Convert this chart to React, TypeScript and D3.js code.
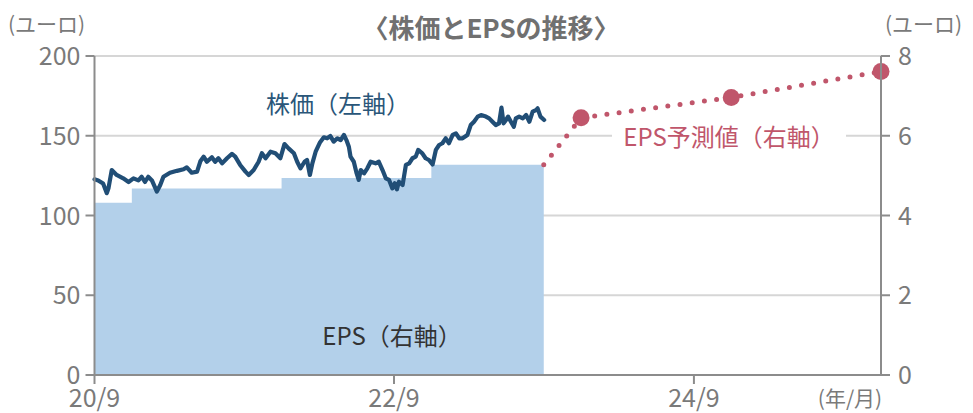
import React from 'react';
import * as d3 from 'd3';

// 株価 (ユーロ) — 読み取り値
const stockPrice: [string, number][] = [
  ['2020-09-01', 122.7], ['2020-09-10', 122], ['2020-09-22', 120], ['2020-10-01', 114],
  ['2020-10-05', 117], ['2020-10-13', 128.5], ['2020-10-25', 125.4], ['2020-11-10', 123.3],
  ['2020-11-23', 121], ['2020-12-05', 123.3], ['2020-12-17', 122], ['2020-12-25', 124.3],
  ['2021-01-02', 121], ['2021-01-10', 124.3], ['2021-01-19', 122], ['2021-01-31', 115],
  ['2021-02-08', 119], ['2021-02-16', 124.3], ['2021-03-04', 126.8], ['2021-03-21', 128],
  ['2021-04-06', 129], ['2021-04-14', 130.2], ['2021-04-26', 126.8], ['2021-05-09', 127.5],
  ['2021-05-17', 134], ['2021-05-25', 136.9], ['2021-06-02', 133.7], ['2021-06-14', 136.5],
  ['2021-06-22', 133.7], ['2021-06-30', 135.9], ['2021-07-09', 132.7], ['2021-07-21', 135.9],
  ['2021-08-02', 138.6], ['2021-08-10', 136.9], ['2021-08-22', 131.7], ['2021-09-04', 127.5],
  ['2021-09-12', 125.4], ['2021-09-24', 128.5], ['2021-10-06', 133.7], ['2021-10-14', 139],
  ['2021-10-23', 135.9], ['2021-11-04', 140], ['2021-11-16', 139], ['2021-11-28', 135.9],
  ['2021-12-08', 144.8], ['2021-12-18', 142.1], ['2021-12-31', 139], ['2022-01-08', 133.7],
  ['2022-01-16', 129.6], ['2022-01-26', 133.7], ['2022-02-01', 134.8], ['2022-02-08', 125.4],
  ['2022-02-14', 132.7], ['2022-02-22', 140], ['2022-03-04', 145.6], ['2022-03-14', 149],
  ['2022-03-22', 148.4], ['2022-03-30', 149.8], ['2022-04-07', 146.3], ['2022-04-16', 148.4],
  ['2022-04-24', 147.3], ['2022-05-02', 150.5], ['2022-05-08', 147.3], ['2022-05-14', 143.1],
  ['2022-05-18', 136.9], ['2022-05-26', 133.7], ['2022-06-02', 126.4], ['2022-06-07', 122.3],
  ['2022-06-12', 128.5], ['2022-06-20', 126.4], ['2022-06-28', 129.6], ['2022-07-06', 133.7],
  ['2022-07-18', 132.7], ['2022-07-26', 133.7], ['2022-08-04', 128.5], ['2022-08-12', 123.3],
  ['2022-08-20', 122.3], ['2022-08-28', 117], ['2022-09-03', 120.2], ['2022-09-08', 116.4],
  ['2022-09-13', 121.2], ['2022-09-22', 119.1], ['2022-09-30', 131.7], ['2022-10-08', 132.7],
  ['2022-10-16', 135.9], ['2022-10-24', 136.9], ['2022-10-30', 141.1], ['2022-11-09', 139],
  ['2022-11-17', 135.9], ['2022-11-25', 134.8], ['2022-12-04', 132], ['2022-12-12', 141.1],
  ['2022-12-20', 144.2], ['2022-12-28', 145.3], ['2023-01-05', 148.4], ['2023-01-13', 145.3],
  ['2023-01-22', 150.5], ['2023-01-30', 151.5], ['2023-02-07', 148.4], ['2023-02-15', 148.4],
  ['2023-02-27', 150.5], ['2023-03-07', 156.7], ['2023-03-15', 158.8], ['2023-03-24', 162],
  ['2023-04-01', 163], ['2023-04-13', 162], ['2023-04-21', 160.9], ['2023-04-29', 158.8],
  ['2023-05-07', 156.7], ['2023-05-15', 157.8], ['2023-05-21', 167.6], ['2023-05-26', 157.8],
  ['2023-06-01', 159.9], ['2023-06-06', 162], ['2023-06-13', 158.8], ['2023-06-20', 155.6],
  ['2023-06-25', 160.9], ['2023-07-03', 162], ['2023-07-12', 160.9], ['2023-07-20', 163],
  ['2023-07-28', 158.8], ['2023-08-05', 165.1], ['2023-08-13', 166.1], ['2023-08-17', 167.2],
  ['2023-08-24', 162], ['2023-09-02', 159.9],
];

// EPS 実績 (ユーロ, 右軸) — 期間の開始日と値
const epsStarts = ['2020-09-01', '2020-12-01', '2021-12-01', '2022-12-01'];
const epsValues = [4.32, 4.68, 4.94, 5.27];
const epsEnd = '2023-09-01';

// EPS 予測値 (右軸)
const forecastDates = ['2023-12-01', '2024-12-01', '2025-12-01'];
const forecastValues = [6.45, 6.96, 7.61];

const leftTicks = [0, 50, 100, 150, 200];
const rightTicks = [0, 2, 4, 6, 8];
const xTickDates = ['2020-09-01', '2022-09-01', '2024-09-01'];
const xTickLabels = ['20/9', '22/9', '24/9'];

const parse = d3.timeParse('%Y-%m-%d');
const FONT = '"Noto Sans CJK JP", "Noto Sans", sans-serif';
const GRAY = '#7a7a7a';

export default function App() {
  const width = 973;
  const height = 413;
  const margin = { top: 56, right: 92, bottom: 38, left: 94.5 };

  const x = d3.scaleTime()
    .domain([parse('2020-09-01')!, parse('2025-12-01')!])
    .range([margin.left, width - margin.right]);
  const yL = d3.scaleLinear().domain([0, 200]).range([height - margin.bottom, margin.top]);
  const yR = d3.scaleLinear().domain([0, 8]).range([height - margin.bottom, margin.top]);

  const x0 = x.range()[0];
  const x1 = x.range()[1];
  const yBottom = yL(0);
  const yTop = yL(200);

  // EPS step area
  const epsPts: [Date, number][] = epsStarts.map((d, i) => [parse(d)!, epsValues[i]]);
  epsPts.push([parse(epsEnd)!, epsValues[epsValues.length - 1]]);
  const epsArea = d3.area<[Date, number]>()
    .x(d => x(d[0]))
    .y0(yR(0))
    .y1(d => yR(d[1]))
    .curve(d3.curveStepAfter)(epsPts);

  const priceLine = d3.line<[string, number]>()
    .x(d => x(parse(d[0])!))
    .y(d => yL(d[1]))(stockPrice);

  const fcPts: [Date, number][] = [[parse(epsEnd)!, epsValues[epsValues.length - 1]]]
    .concat(forecastDates.map((d, i) => [parse(d)!, forecastValues[i]] as [Date, number])) as [Date, number][];
  const fcLine = d3.line<[Date, number]>().x(d => x(d[0])).y(d => yR(d[1]))(fcPts);

  const red = '#c0566b';

  return (
    <svg width={width} height={height} style={{ position: 'absolute', left: 0, top: 0, background: '#fff' }}
      fontFamily={FONT}>
      {/* gridlines */}
      {leftTicks.filter(t => t > 0).map(t => (
        <line key={t} x1={x0} x2={x1} y1={yL(t)} y2={yL(t)} stroke="#d6d6d6" strokeWidth={2} />
      ))}

      {/* EPS area */}
      <path d={epsArea || ''} fill="#b3d0ea" />

      {/* price line */}
      <path d={priceLine || ''} fill="none" stroke="#214e76" strokeWidth={4.2}
        strokeLinejoin="round" strokeLinecap="round" />

      {/* forecast dotted line */}
      <path d={fcLine || ''} fill="none" stroke={red} strokeWidth={5}
        strokeDasharray="0 12.3" strokeLinecap="round" />
      {forecastDates.map((d, i) => (
        <circle key={d} cx={x(parse(d)!)} cy={yR(forecastValues[i])} r={8.5} fill={red} />
      ))}

      {/* axes */}
      <line x1={x0} x2={x0} y1={yTop} y2={yBottom} stroke="#8c8c8c" strokeWidth={2} />
      <line x1={x1} x2={x1} y1={yTop} y2={yBottom} stroke="#8c8c8c" strokeWidth={2} />
      <line x1={x0 - 1} x2={x1 + 1} y1={yBottom} y2={yBottom} stroke="#8c8c8c" strokeWidth={2} />

      {leftTicks.map(t => (
        <g key={t}>
          <line x1={x0 - 9} x2={x0} y1={yL(t)} y2={yL(t)} stroke="#8c8c8c" strokeWidth={2} />
          <text x={x0 - 14} y={yL(t)} dy="0.36em" textAnchor="end" fontSize={25} fill={GRAY}>{t}</text>
        </g>
      ))}
      {rightTicks.map(t => (
        <g key={t}>
          <line x1={x1} x2={x1 + 9} y1={yR(t)} y2={yR(t)} stroke="#8c8c8c" strokeWidth={2} />
          <text x={x1 + 17} y={yR(t)} dy="0.36em" textAnchor="start" fontSize={25} fill={GRAY}>{t}</text>
        </g>
      ))}
      {xTickDates.map((d, i) => (
        <g key={d}>
          <line x1={x(parse(d)!)} x2={x(parse(d)!)} y1={yBottom} y2={yBottom + 9} stroke="#8c8c8c" strokeWidth={2} />
          <text x={x(parse(d)!)} y={407} textAnchor="middle" fontSize={25} fill={GRAY}>{xTickLabels[i]}</text>
        </g>
      ))}

      {/* units */}
      <text x={8} y={32} fontSize={21} fill={GRAY}>(ユーロ)</text>
      <text x={885} y={32} fontSize={21} fill={GRAY}>(ユーロ)</text>
      <text x={850} y={406} textAnchor="middle" fontSize={21} fill={GRAY}>(年/月)</text>

      {/* title */}
      <text x={491} y={38} textAnchor="middle" fontSize={26} fontWeight={700} fill="#707070">〈株価とEPSの推移〉</text>

      {/* labels */}
      <text x={338} y={113} textAnchor="middle" fontSize={24} fill="#2a5679">株価（左軸）</text>
      <rect x={612} y={120} width={234} height={32} fill="#fff" />
      <text x={729} y={146} textAnchor="middle" fontSize={24} fill={red}>EPS予測値（右軸）</text>
      <text x={392} y={345} textAnchor="middle" fontSize={24} fill="#333">EPS（右軸）</text>
    </svg>
  );
}
